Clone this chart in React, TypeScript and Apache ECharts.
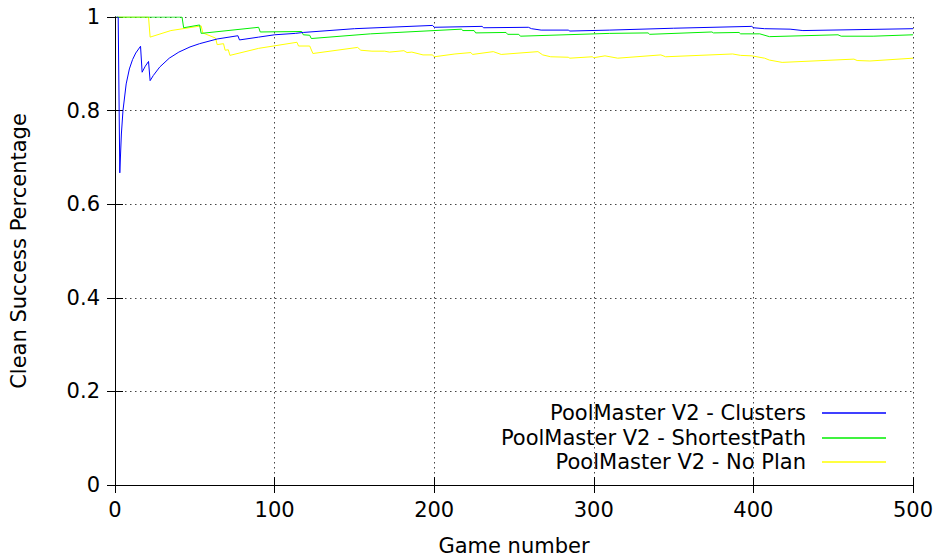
import React, { useEffect, useRef } from "react";
import * as echarts from "echarts";

const seriesNames = [
  "PoolMaster V2 - Clusters",
  "PoolMaster V2 - ShortestPath",
  "PoolMaster V2 - No Plan",
];

const clustersData: [number, number][] = [
  [1, 1], [2, 1], [3, 0.667], [4, 0.75], [5, 0.8], [7, 0.857], [9, 0.889],
  [11, 0.909], [13, 0.923], [16, 0.9375], [17, 0.882], [19, 0.895], [21, 0.905],
  [22, 0.864], [24, 0.875], [28, 0.893], [34, 0.912], [40, 0.925], [47, 0.936],
  [53, 0.943], [64, 0.953], [77, 0.96], [78, 0.951], [90, 0.957], [100, 0.962],
  [113, 0.965], [118, 0.967], [150, 0.975], [199, 0.982], [200, 0.978],
  [230, 0.98], [231, 0.977], [259, 0.978], [261, 0.975], [267, 0.972],
  [284, 0.972], [285, 0.97], [310, 0.972], [350, 0.976], [399, 0.98],
  [400, 0.977], [407, 0.975], [423, 0.974], [431, 0.971], [500, 0.975],
];

const shortestPathData: [number, number][] = [
  [1, 1], [42, 1], [43, 0.977], [53, 0.983], [54, 0.965], [90, 0.978],
  [91, 0.968], [117, 0.969], [118, 0.962], [122, 0.961], [123, 0.954],
  [160, 0.964], [217, 0.974], [218, 0.971], [225, 0.971], [226, 0.966],
  [245, 0.967], [246, 0.963], [253, 0.963], [254, 0.959], [310, 0.965],
  [334, 0.966], [335, 0.963], [374, 0.968], [375, 0.966], [391, 0.967],
  [392, 0.964], [404, 0.964], [410, 0.958], [453, 0.962], [455, 0.959],
  [475, 0.959], [500, 0.962],
];

const noPlanData: [number, number][] = [
  [1, 1], [21, 1], [22, 0.957], [35, 0.971], [54, 0.981], [55, 0.966],
  [63, 0.955], [64, 0.941], [68, 0.943], [69, 0.929], [71, 0.93], [72, 0.918],
  [90, 0.933], [114, 0.946], [115, 0.938], [122, 0.938], [124, 0.922],
  [152, 0.935], [154, 0.929], [161, 0.927], [169, 0.927], [172, 0.925],
  [181, 0.928], [183, 0.924], [186, 0.925], [193, 0.919], [199, 0.919],
  [200, 0.915], [213, 0.921], [223, 0.924], [224, 0.92], [237, 0.926],
  [242, 0.92], [265, 0.926], [268, 0.919], [273, 0.915], [284, 0.914],
  [285, 0.912], [299, 0.915], [300, 0.913], [307, 0.917], [315, 0.912],
  [342, 0.919], [345, 0.915], [387, 0.921], [392, 0.918], [399, 0.917],
  [407, 0.912], [410, 0.908], [418, 0.903], [463, 0.91], [465, 0.907],
  [473, 0.906], [500, 0.912],
];

const seriesColors = ["#0000ff", "#00ee00", "#ffff00"];
const xTicks = { min: 0, max: 500, interval: 100 };
const yTicks = { min: 0, max: 1, interval: 0.2 };

const FONT = "DejaVu Sans";
const FS = 21;

export default function App() {
  const ref = useRef<HTMLDivElement>(null);
  useEffect(() => {
    document.body.style.margin = "0";
    document.body.style.overflow = "hidden";
    if (!ref.current) return;
    const chart = echarts.init(ref.current, undefined, { renderer: "svg" });
    const datas = [clustersData, shortestPathData, noPlanData];
    const gridLine = {
      show: true,
      lineStyle: { color: "#444", type: [1.5, 3.5], width: 1 },
    };
    const tick = { show: true, inside: true, length: 8, lineStyle: { color: "#000" } };
    const axisLine = { show: true, lineStyle: { color: "#000", width: 1 } };
    const legendY = [413, 438, 462];
    const legendGraphics: any[] = [];
    seriesNames.forEach((n, i) => {
      legendGraphics.push({
        type: "text",
        x: 806,
        y: legendY[i],
        style: {
          text: n,
          fontFamily: FONT,
          fontSize: FS,
          fill: "#000",
          textAlign: "right",
          textVerticalAlign: "middle",
        },
      });
      legendGraphics.push({
        type: "line",
        shape: { x1: 822, y1: legendY[i], x2: 886, y2: legendY[i] },
        style: { stroke: seriesColors[i], lineWidth: 1.5 },
      });
    });
    chart.setOption({
      animation: false,
      backgroundColor: "#fff",
      textStyle: { fontFamily: FONT },
      grid: {
        left: 115,
        right: 25,
        top: 17,
        bottom: 71,
        containLabel: false,
        outerBoundsMode: "none",
      },
      graphic: legendGraphics,
      xAxis: [
        {
          type: "value",
          ...xTicks,
          position: "bottom",
          name: "Game number",
          nameLocation: "middle",
          nameGap: 50,
          nameTextStyle: { fontFamily: FONT, fontSize: FS, color: "#000" },
          axisLine,
          axisTick: tick,
          axisLabel: { fontFamily: FONT, fontSize: FS, color: "#000", margin: 14 },
          splitLine: gridLine,
        },
        {
          type: "value",
          ...xTicks,
          position: "top",
          axisLine,
          axisTick: tick,
          axisLabel: { show: false },
          splitLine: { show: false },
        },
      ],
      yAxis: [
        {
          type: "value",
          ...yTicks,
          position: "left",
          name: "Clean Success Percentage",
          nameLocation: "middle",
          nameGap: 86,
          nameTextStyle: { fontFamily: FONT, fontSize: FS, color: "#000" },
          axisLine,
          axisTick: tick,
          axisLabel: { fontFamily: FONT, fontSize: FS, color: "#000", margin: 15 },
          splitLine: gridLine,
        },
        {
          type: "value",
          ...yTicks,
          position: "right",
          axisLine,
          axisTick: tick,
          axisLabel: { show: false },
          splitLine: { show: false },
        },
      ],
      series: seriesNames.map((n, i) => ({
        name: n,
        type: "line",
        data: datas[i],
        xAxisIndex: 0,
        yAxisIndex: 0,
        showSymbol: false,
        symbol: "none",
        clip: true,
        color: seriesColors[i],
        lineStyle: { color: seriesColors[i], width: 1 },
        z: 3 - i,
      })),
    });
    return () => chart.dispose();
  }, []);
  return <div ref={ref} style={{ width: 938, height: 556 }} />;
}
